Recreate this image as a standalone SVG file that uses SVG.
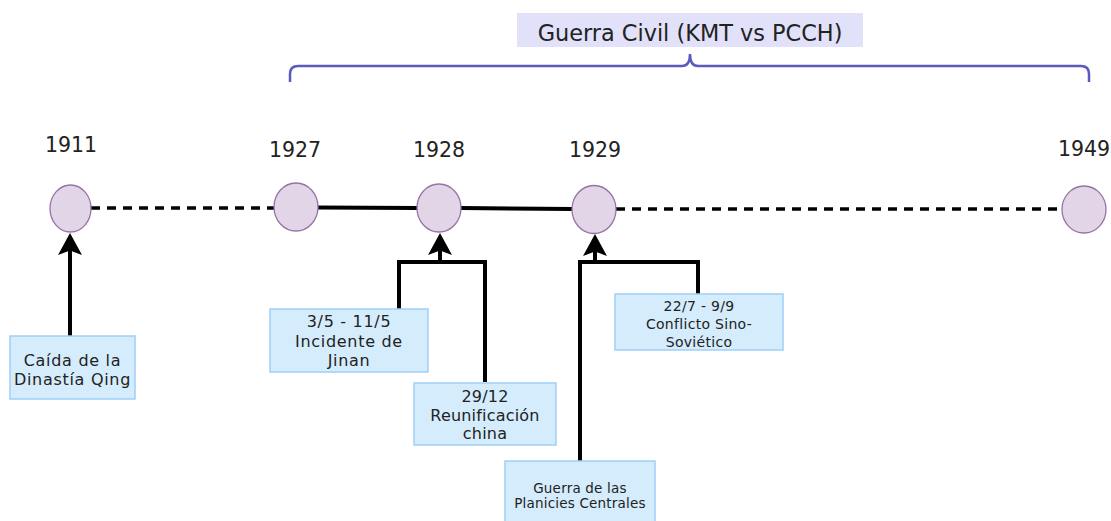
<svg xmlns="http://www.w3.org/2000/svg" xmlns:xlink="http://www.w3.org/1999/xlink" width="1111" height="521" viewBox="0 0 1111 521">
<style>
.yr{font-family:"DejaVu Sans",Verdana,sans-serif;font-size:20.5px;fill:#222;text-anchor:middle}
.ev{fill:#e1d5e7;stroke:#9673a6;stroke-width:1.3}
.bx{fill:#d4ecfc;stroke:#9fd0f7;stroke-width:1.5}
.t{font-family:"DejaVu Sans",Verdana,sans-serif;fill:#222;text-anchor:middle}
.c{fill:none;stroke:#000;stroke-width:4}
.tl{fill:none;stroke:#000;stroke-width:4}
.dash{stroke-dasharray:9 7;stroke-width:3.5}
.ah{fill:#000;stroke:none}
</style>
<defs>
<path id="ah" d="M0,0 L12,22 L0,17.5 L-12,22 Z"/>
</defs>
<g id="title">
<rect x="517" y="13" width="346" height="34" fill="#e1e1fa"/>
<text x="690" y="41" font-family="DejaVu Sans,Verdana,sans-serif" font-size="22.4" fill="#222" text-anchor="middle">Guerra Civil (KMT vs PCCH)</text>
<path d="M290,82 V74 Q290,66 298,66 H682 Q690,66 690,54 Q690,66 698,66 H1081 Q1089,66 1089,74 V82" fill="none" stroke="#5a5abf" stroke-width="2.5"/>
</g>
<g id="connectors">
<path class="tl dash" d="M91,208 H274"/>
<path class="tl" d="M318,207.5 L417,208"/>
<path class="tl" d="M461,208 L572,209"/>
<path class="tl dash" d="M616,209 H1062"/>
<path class="c" d="M70,336 V245"/>
<path class="c" d="M399,309 V262 H440 V245"/>
<path class="c" d="M485,382 V262 H440 V245"/>
<path class="c" d="M580,461 V262 H595 V245"/>
<path class="c" d="M698,294 V262 H595 V245"/>
<use class="ah" href="#ah" xlink:href="#ah" x="70" y="233"/>
<use class="ah" href="#ah" xlink:href="#ah" x="440" y="233"/>
<use class="ah" href="#ah" xlink:href="#ah" x="595" y="234"/>
</g>
<g id="y1911"><text class="yr" x="71" y="152">1911</text><ellipse class="ev" cx="70.5" cy="208.5" rx="20.5" ry="23.5"/></g>
<g id="y1927"><text class="yr" x="295" y="157">1927</text><ellipse class="ev" cx="296" cy="207" rx="22" ry="24"/></g>
<g id="y1928"><text class="yr" x="439" y="157">1928</text><ellipse class="ev" cx="439" cy="208" rx="22" ry="24"/></g>
<g id="y1929"><text class="yr" x="595" y="157">1929</text><ellipse class="ev" cx="594" cy="209.5" rx="22" ry="24"/></g>
<g id="y1949"><text class="yr" x="1084" y="156">1949</text><ellipse class="ev" cx="1084" cy="209.5" rx="22" ry="23.5"/></g>
<g id="qing">
<rect class="bx" x="10" y="336" width="125" height="63"/>
<text class="t" x="72.5" y="366" font-size="16" letter-spacing="0.7">Caída de la</text>
<text class="t" x="72.5" y="385" font-size="16" letter-spacing="0.7">Dinastía Qing</text>
</g>
<g id="jinan">
<rect class="bx" x="270" y="309" width="158" height="63"/>
<text class="t" x="349" y="327" font-size="16" letter-spacing="0.7">3/5 - 11/5</text>
<text class="t" x="349" y="347" font-size="16" letter-spacing="0.7">Incidente de</text>
<text class="t" x="349" y="366" font-size="16" letter-spacing="0.7">Jinan</text>
</g>
<g id="reunificacion">
<rect class="bx" x="414" y="383" width="142" height="62"/>
<text class="t" x="485" y="402" font-size="16" letter-spacing="0.2">29/12</text>
<text class="t" x="485" y="421" font-size="16" letter-spacing="0.2">Reunificación</text>
<text class="t" x="485" y="439" font-size="16" letter-spacing="0.2">china</text>
</g>
<g id="sinosov">
<rect class="bx" x="615" y="294" width="168" height="56"/>
<text class="t" x="699" y="311" font-size="14" letter-spacing="0.3">22/7 - 9/9</text>
<text class="t" x="699" y="329" font-size="14" letter-spacing="0.3">Conflicto Sino-</text>
<text class="t" x="699" y="347" font-size="14" letter-spacing="0.3">Soviético</text>
</g>
<g id="planicies">
<rect class="bx" x="505" y="461" width="150" height="62"/>
<text class="t" x="580" y="493" font-size="13.5" letter-spacing="0.2">Guerra de las</text>
<text class="t" x="580" y="508" font-size="13.5" letter-spacing="0.2">Planicies Centrales</text>
</g>
</svg>
